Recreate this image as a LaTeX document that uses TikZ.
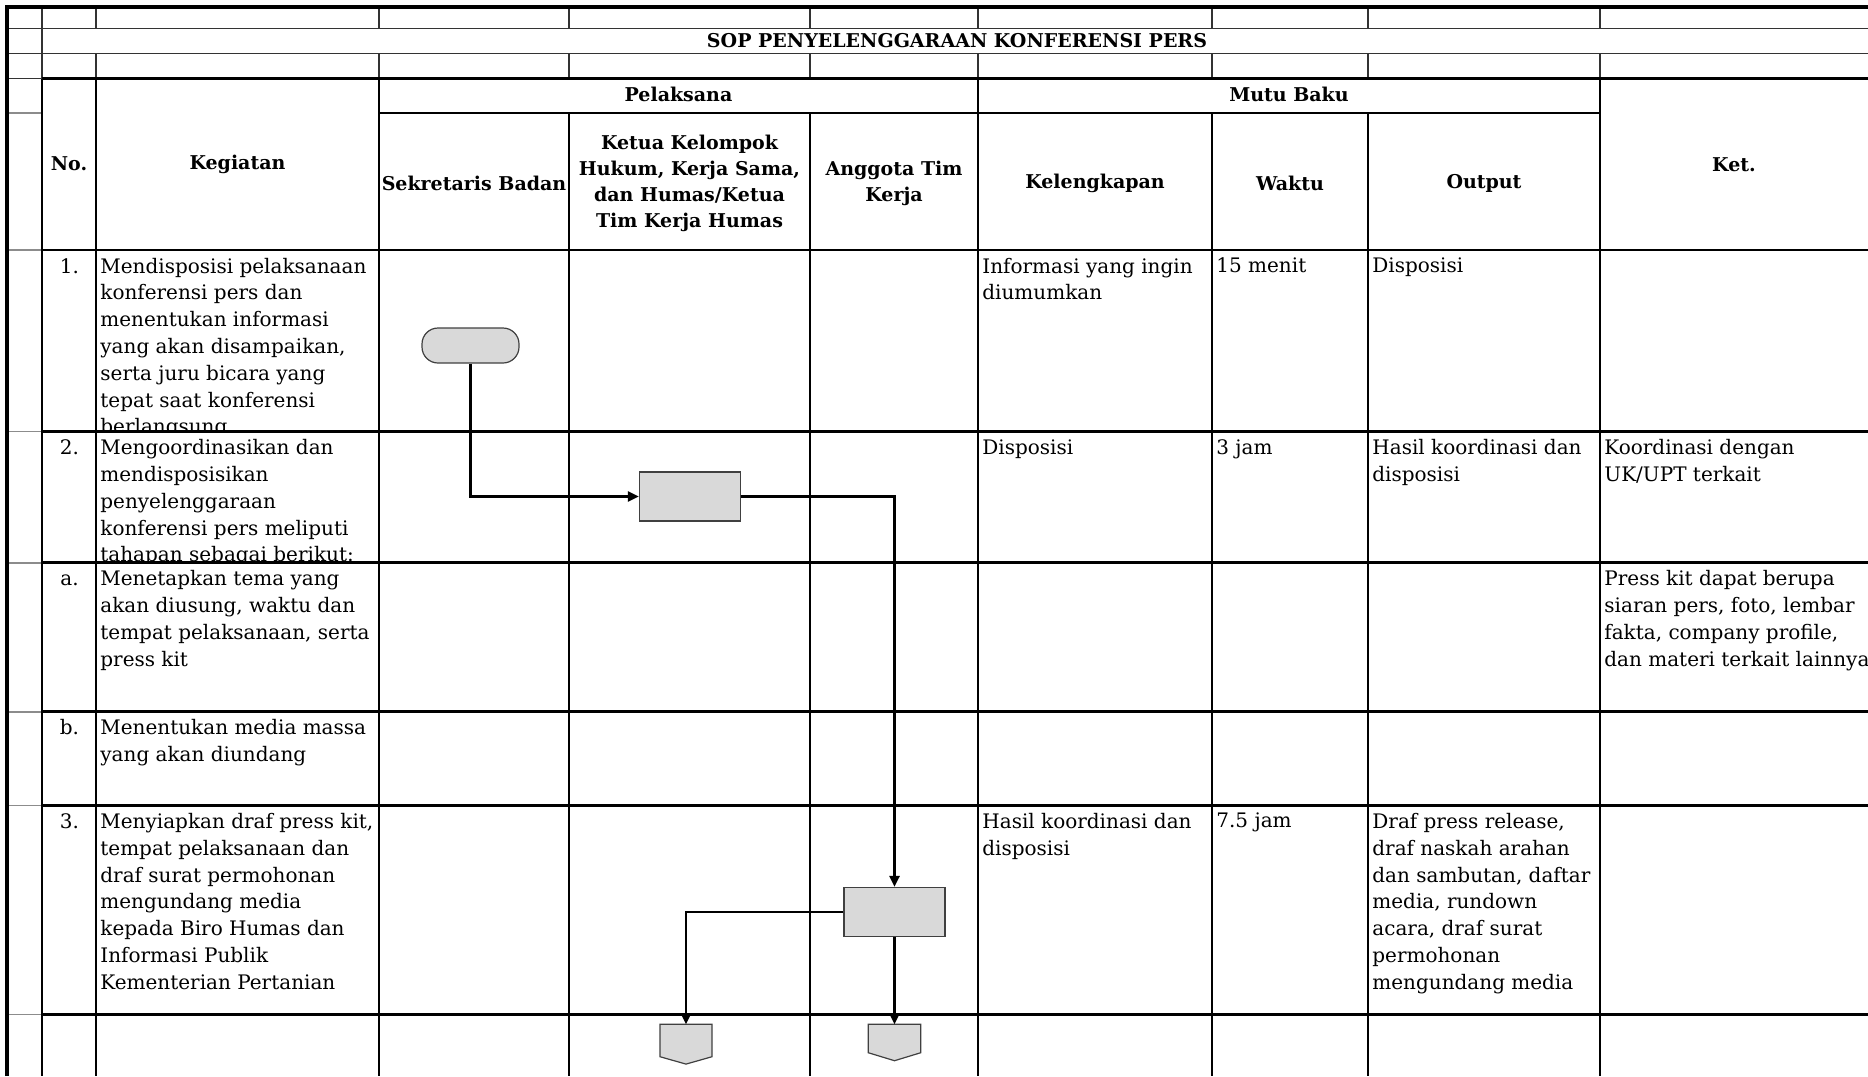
\documentclass[tikz,border=0pt]{standalone}
\usepackage{fontspec}
\setmainfont{DejaVu Serif}
\usetikzlibrary{arrows.meta}
\newcommand{\bodyfont}{\fontsize{10}{13.4}\selectfont}
\newcommand{\headfont}{\fontsize{9.5}{13}\selectfont\bfseries}
\tikzset{
  gridthin/.style={line width=0.8pt, black!80},
  gridgray/.style={line width=0.8pt, black!45},
  gridthick/.style={line width=1.3pt},
  border/.style={line width=2pt},
  head/.style={inner sep=0pt, align=center, font=\headfont},
  cell/.style={anchor=north west, inner sep=0pt, align=left, font=\bodyfont},
  num/.style={anchor=north, inner sep=0pt, text height=7.6pt, text depth=0pt, font=\bodyfont},
  terminal/.style={draw=black!75, fill=black!15, line width=0.6pt, rounded corners=8pt,
    minimum width=48.5pt, minimum height=17.5pt, inner sep=0pt},
  process/.style={draw=black!75, fill=black!15, line width=0.6pt,
    minimum width=50.5pt, minimum height=24.5pt, inner sep=0pt},
  offpage/.style={draw=black!75, fill=black!15, line width=0.6pt},
  flow/.style={line width=1.3pt, -{Triangle[length=5.5pt,width=5pt]}}
}
\begin{document}
\begin{tikzpicture}[x=0.5pt, y=-0.5pt]
  \useasboundingbox (0,0) rectangle (1868,1076);
  \draw[gridthin] (7,28.6) -- (1868,28.6);
  \draw[gridthin] (7,53.6) -- (1868,53.6);
  \draw[gridthin] (7,78.6) -- (42,78.6);
  \draw[gridgray] (7,113) -- (42,113);
  \foreach \y in {250,431.6,562.7,711.7,805.3,1014.5}
    \draw[gridgray] (7,\y) -- (42,\y);
  \foreach \x in {42,96,379,569,810,978,1212,1368,1600}
    \draw[gridthin] (\x,7) -- (\x,28.6);
  \foreach \x in {96,379,569,810,978,1212,1368,1600}
    \draw[gridthin] (\x,53.6) -- (\x,78.6);
  \draw[gridthin] (42,28.6) -- (42,78.6);
  \begin{scope}[gridthick]
    \draw (42,78.6) -- (1868,78.6);
    \draw (379,113) -- (1600,113);
    \draw (42,250) -- (1868,250);
    \draw (42,431.6) -- (1868,431.6);
    \draw (42,562.7) -- (1868,562.7);
    \draw (42,711.7) -- (1868,711.7);
    \draw (42,805.3) -- (1868,805.3);
    \draw (42,1014.5) -- (1868,1014.5);
    \draw (42,78.6) -- (42,1076);
    \draw (96,78.6) -- (96,1076);
    \draw (379,78.6) -- (379,1076);
    \draw (569,113) -- (569,1076);
    \draw (810,113) -- (810,1076);
    \draw (978,78.6) -- (978,1076);
    \draw (1212,113) -- (1212,1076);
    \draw (1368,113) -- (1368,1076);
    \draw (1600,78.6) -- (1600,1076);
  \end{scope}
  \draw[border] (7,1076) -- (7,7) -- (1868,7);

  \node[head] (title) at (957,41) {SOP PENYELENGGARAAN KONFERENSI PERS};
  \node[head] (hno) at (69,164) {No.};
  \node[head] (hkeg) at (237.5,164) {Kegiatan};
  \node[head] (hpel) at (678.5,94) {Pelaksana};
  \node[head] (hmutu) at (1289,94) {Mutu Baku};
  \node[head] (hket) at (1734,165) {Ket.};
  \node[head] (hsek) at (474,183.5) {Sekretaris Badan};
  \node[head] (hketua) at (689.5,183.5) {Ketua Kelompok\\Hukum, Kerja Sama,\\dan Humas/Ketua\\Tim Kerja Humas};
  \node[head] (hang) at (894,183.5) {Anggota Tim\\Kerja};
  \node[head] (hkel) at (1095,183.5) {Kelengkapan};
  \node[head] (hwak) at (1290,183.5) {Waktu};
  \node[head] (hout) at (1484,183.5) {Output};

  \node[num] (n1) at (69.5,257.5) {1.};
  \node[num] (n2) at (69.5,439.1) {2.};
  \node[num] (na) at (69.5,570.2) {a.};
  \node[num] (nb) at (69.5,719.2) {b.};
  \node[num] (n3) at (69.5,812.8) {3.};

  \begin{scope}
    \clip (96,250) rectangle (379,431.6);
    \node[cell] (k1) at (100,257.5) {Mendisposisi pelaksanaan\\konferensi pers dan\\menentukan informasi\\yang akan disampaikan,\\serta juru bicara yang\\tepat saat konferensi\\berlangsung};
  \end{scope}
  \begin{scope}
    \clip (96,431.6) rectangle (379,562.7);
    \node[cell] (k2) at (100,439.1) {Mengoordinasikan dan\\mendisposisikan\\penyelenggaraan\\konferensi pers meliputi\\tahapan sebagai berikut:};
  \end{scope}
  \node[cell] (ka) at (100,570.2) {Menetapkan tema yang\\akan diusung, waktu dan\\tempat pelaksanaan, serta\\press kit};
  \node[cell] (kb) at (100,719.2) {Menentukan media massa\\yang akan diundang};
  \node[cell] (k3) at (100,812.8) {Menyiapkan draf press kit,\\tempat pelaksanaan dan\\draf surat permohonan\\mengundang media\\kepada Biro Humas dan\\Informasi Publik\\Kementerian Pertanian};

  \node[cell] (l1) at (982,257.5) {Informasi yang ingin\\diumumkan};
  \node[cell] (w1) at (1216,257.5) {15 menit};
  \node[cell] (o1) at (1372,257.5) {Disposisi};
  \node[cell] (l2) at (982,439.1) {Disposisi};
  \node[cell] (w2) at (1216,439.1) {3 jam};
  \node[cell] (o2) at (1372,439.1) {Hasil koordinasi dan\\disposisi};
  \node[cell] (c2) at (1604,439.1) {Koordinasi dengan\\UK/UPT terkait};
  \node[cell] (ca) at (1604,570.2) {Press kit dapat berupa\\siaran pers, foto, lembar\\fakta, company profile,\\dan materi terkait lainnya};
  \node[cell] (l3) at (982,812.8) {Hasil koordinasi dan\\disposisi};
  \node[cell] (w3) at (1216,812.8) {7.5 jam};
  \node[cell] (o3) at (1372,812.8) {Draf press release,\\draf naskah arahan\\dan sambutan, daftar\\media, rundown\\acara, draf surat\\permohonan\\mengundang media};

  \node[terminal] (start) at (470.5,345.5) {};
  \node[process] (koord) at (690,496.5) {};
  \node[process] (draft) at (894.5,912) {};
  \coordinate (off1) at (686,1024.3);
  \coordinate (off2) at (894.5,1024.3);
  \draw[offpage] (off1) ++(-26,0) -- ++(52,0) -- ++(0,32.4) -- ++(-26,7.4) -- ++(-26,-7.4) -- cycle;
  \draw[offpage] (off2) ++(-26.3,0) -- ++(52.6,0) -- ++(0,28.4) -- ++(-26.3,8) -- ++(-26.3,-8) -- cycle;

  \begin{scope}[flow]
    \draw (start.south) |- (koord.west);
    \draw (koord.east) -| (draft.north);
    \draw (draft.west) -| (off1);
    \draw (draft.south) -- (off2);
  \end{scope}
\end{tikzpicture}
\end{document}
